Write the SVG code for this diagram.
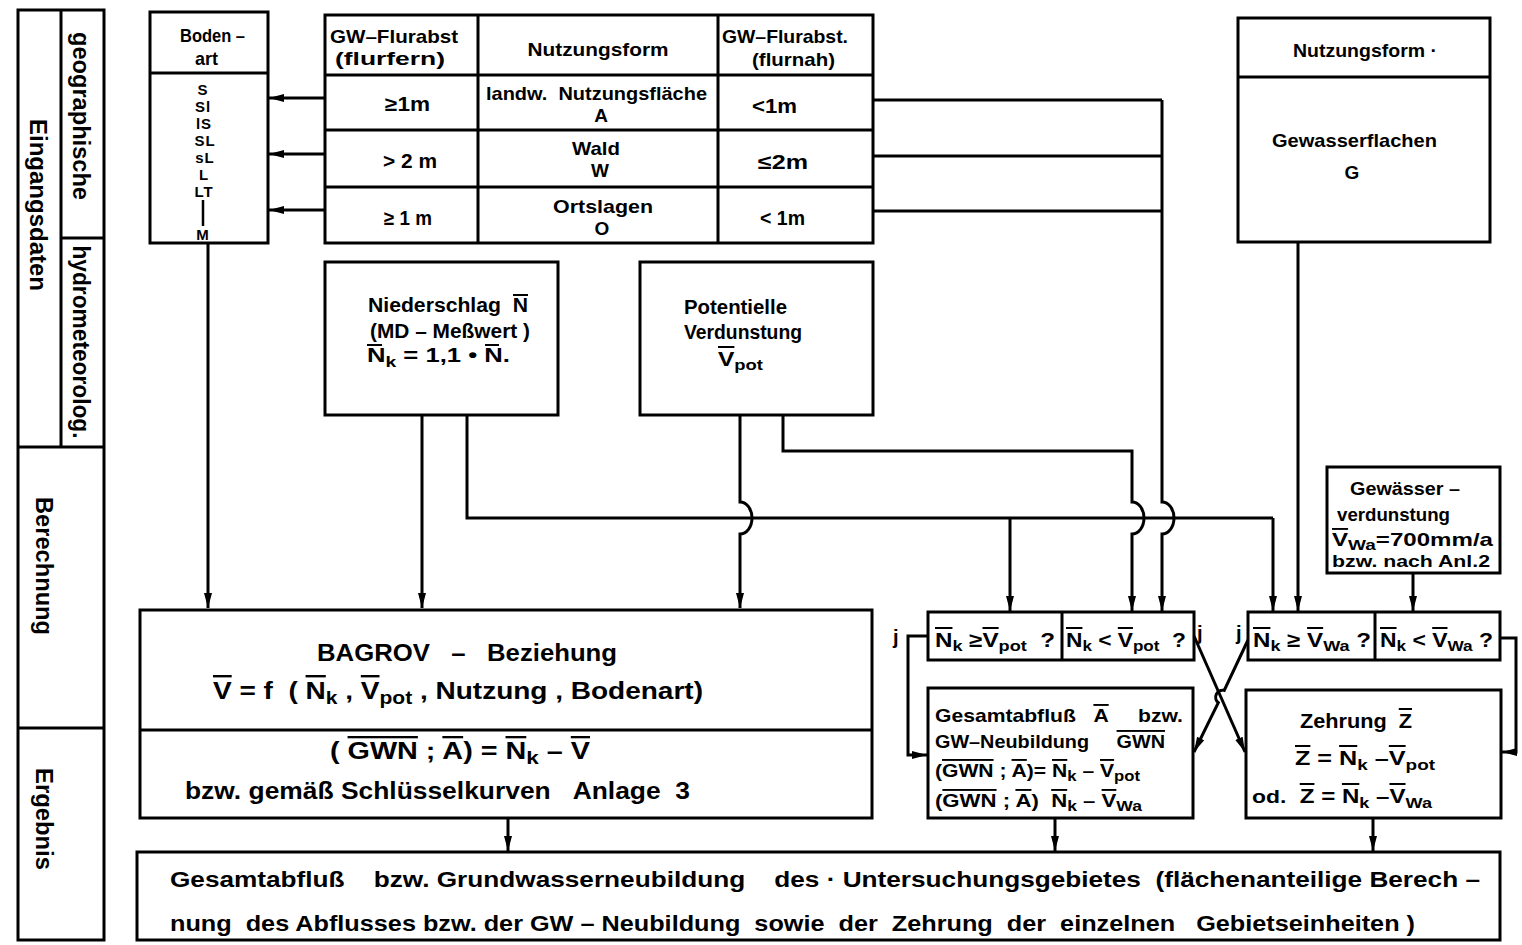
<svg xmlns="http://www.w3.org/2000/svg" width="1522" height="945" viewBox="0 0 1522 945">
<defs>
<marker id="ah" markerUnits="userSpaceOnUse" markerWidth="16" markerHeight="10" refX="15" refY="5" orient="auto">
<path d="M0,1 L15,5 L0,9 z" fill="#000"/>
</marker>
<style>
.bx{fill:#fff;stroke:#000;stroke-width:3}
.ln{fill:none;stroke:#000;stroke-width:3}
.c{fill:none;stroke:#000;stroke-width:3;marker-end:url(#ah)}
.ob{fill:none;stroke:#000;stroke-width:2}
text{font-family:"Liberation Sans",Arial,sans-serif;font-weight:bold;font-size:20px;fill:#000}
.s{font-size:19px}
.m{text-anchor:middle}
.ov{text-decoration:overline}
.sub{font-size:15px}
.bd{font-size:15px;text-anchor:middle;letter-spacing:1px}
.sd{font-size:24px;text-anchor:middle}
</style>
</defs>
<rect width="1522" height="945" fill="#fff"/>

<g id="sidebar">
<rect class="bx" x="18" y="10" width="86" height="930"/>
<path class="ln" d="M61,10 V447 M61,238 H104 M18,447 H104 M18,728 H104"/>
<text class="sd" transform="translate(38,205) rotate(90)" dy="8" textLength="172" lengthAdjust="spacingAndGlyphs">Eingangsdaten</text>
<text class="sd" transform="translate(81,116) rotate(90)" dy="8" textLength="168" lengthAdjust="spacingAndGlyphs">geographische</text>
<text class="sd" transform="translate(81,342) rotate(90)" dy="8" textLength="193" lengthAdjust="spacingAndGlyphs">hydrometeorolog.</text>
<text class="sd" transform="translate(44,566) rotate(90)" dy="8" textLength="138" lengthAdjust="spacingAndGlyphs">Berechnung</text>
<text class="sd" transform="translate(44,819) rotate(90)" dy="8" textLength="102" lengthAdjust="spacingAndGlyphs">Ergebnis</text>
</g>

<g id="bodenart">
<rect class="bx" x="150" y="12" width="118" height="231"/>
<path class="ln" d="M150,73 H268"/>
<text class="s" x="180" y="42" textLength="65" lengthAdjust="spacingAndGlyphs">Boden&#160;–</text>
<text class="s" x="195" y="65" textLength="23" lengthAdjust="spacingAndGlyphs">art</text>
<text class="bd" x="203" y="95">S</text>
<text class="bd" x="203" y="112">Sl</text>
<text class="bd" x="204" y="129">lS</text>
<text class="bd" x="205" y="146">SL</text>
<text class="bd" x="205" y="163">sL</text>
<text class="bd" x="204" y="180">L</text>
<text class="bd" x="204" y="197">LT</text>
<text class="bd" x="203" y="240">M</text>
<path class="ln" d="M203,200 V226" style="stroke-width:2.5"/>
</g>

<g id="table">
<rect class="bx" x="325" y="15" width="548" height="228"/>
<path class="ln" d="M478,15 V243 M718,15 V243 M325,75 H873 M325,130 H873 M325,187 H873"/>
<text class="s" x="330" y="43" textLength="128" lengthAdjust="spacingAndGlyphs">GW–Flurabst</text>
<text class="s" x="335" y="65" textLength="110" lengthAdjust="spacingAndGlyphs">(flurfern)</text>
<text class="s m" x="598" y="56" textLength="141" lengthAdjust="spacingAndGlyphs">Nutzungsform</text>
<text class="s" x="722" y="43" textLength="126" lengthAdjust="spacingAndGlyphs">GW–Flurabst.</text>
<text class="s" x="752" y="66" textLength="83" lengthAdjust="spacingAndGlyphs">(flurnah)</text>
<text x="385" y="111" textLength="45" lengthAdjust="spacingAndGlyphs">≥1m</text>
<text class="s" x="486" y="100" textLength="221" lengthAdjust="spacingAndGlyphs">landw.&#160;&#160;Nutzungsfläche</text>
<text class="s m" x="601" y="122">A</text>
<text x="752" y="113" textLength="45" lengthAdjust="spacingAndGlyphs">&lt;1m</text>
<text x="383" y="168" textLength="54" lengthAdjust="spacingAndGlyphs">&gt; 2 m</text>
<text class="s" x="572" y="155" textLength="48" lengthAdjust="spacingAndGlyphs">Wald</text>
<text class="s m" x="600" y="177">W</text>
<text x="758" y="169" textLength="50" lengthAdjust="spacingAndGlyphs">≤2m</text>
<text x="384" y="225" textLength="48" lengthAdjust="spacingAndGlyphs">≥ 1 m</text>
<text class="s" x="553" y="213" textLength="100" lengthAdjust="spacingAndGlyphs">Ortslagen</text>
<text class="s m" x="602" y="235">O</text>
<text x="760" y="225" textLength="45" lengthAdjust="spacingAndGlyphs">&lt; 1m</text>
</g>

<g id="niederschlag">
<rect class="bx" x="325" y="262" width="233" height="153"/>
<text x="368" y="312" textLength="160" lengthAdjust="spacingAndGlyphs">Niederschlag&#160;&#160;N</text>
<text x="370" y="338" textLength="160" lengthAdjust="spacingAndGlyphs">(MD – Meßwert )</text>
<text x="367" y="362" textLength="143" lengthAdjust="spacingAndGlyphs">N<tspan class="sub" dy="5">k</tspan><tspan dy="-5"> = 1,1 • N.</tspan></text>
<path class="ob" d="M513,295 H528 M367,345 H382 M485,345 H499"/>
</g>

<g id="verdunstung">
<rect class="bx" x="640" y="262" width="233" height="153"/>
<text x="684" y="314" textLength="103" lengthAdjust="spacingAndGlyphs">Potentielle</text>
<text x="684" y="339" textLength="118" lengthAdjust="spacingAndGlyphs">Verdunstung</text>
<text x="718" y="366" textLength="45" lengthAdjust="spacingAndGlyphs"><tspan class="ov">V</tspan><tspan class="sub" dy="4">pot</tspan></text>
</g>

<g id="gewaesser">
<rect class="bx" x="1238" y="18" width="252" height="224"/>
<path class="ln" d="M1238,77 H1490"/>
<text class="s" x="1293" y="57" textLength="144" lengthAdjust="spacingAndGlyphs">Nutzungsform ·</text>
<text class="s" x="1272" y="147" textLength="165" lengthAdjust="spacingAndGlyphs">Gewasserflachen</text>
<text class="s m" x="1352" y="179">G</text>
</g>

<g id="gewaesserverdunstung">
<rect class="bx" x="1327" y="467" width="173" height="106"/>
<text class="s" x="1350" y="495" textLength="110" lengthAdjust="spacingAndGlyphs">Gewässer –</text>
<text class="s" x="1337" y="521" textLength="113" lengthAdjust="spacingAndGlyphs">verdunstung</text>
<text class="s" x="1332" y="546" textLength="161" lengthAdjust="spacingAndGlyphs"><tspan class="ov">V</tspan><tspan class="sub" dy="4">Wa</tspan><tspan dy="-4">=700mm/a</tspan></text>
<text x="1332" y="567" style="font-size:16px" textLength="158" lengthAdjust="spacingAndGlyphs">bzw. nach Anl.2</text>
</g>

<g id="bagrov">
<rect class="bx" x="140" y="610" width="732" height="208"/>
<path class="ln" d="M140,730 H872"/>
<text x="317" y="661" style="font-size:24px" textLength="300" lengthAdjust="spacingAndGlyphs">BAGROV&#160;&#160;&#160;–&#160;&#160;&#160;Beziehung</text>
<text x="213" y="699" style="font-size:24px" textLength="490" lengthAdjust="spacingAndGlyphs"><tspan class="ov">V</tspan> = f&#160;&#160;( <tspan class="ov">N</tspan><tspan class="sub" style="font-size:18px" dy="5">k</tspan><tspan dy="-5"> , </tspan><tspan class="ov">V</tspan><tspan class="sub" style="font-size:18px" dy="5">pot</tspan><tspan dy="-5"> , Nutzung , Bodenart)</tspan></text>
<text x="330" y="759" style="font-size:23px" textLength="260" lengthAdjust="spacingAndGlyphs">( <tspan class="ov">GWN</tspan> ; <tspan class="ov">A</tspan>) = <tspan class="ov">N</tspan><tspan class="sub" style="font-size:18px" dy="5">k</tspan><tspan dy="-5"> – </tspan><tspan class="ov">V</tspan></text>
<text x="185" y="799" style="font-size:23px" textLength="505" lengthAdjust="spacingAndGlyphs">bzw. gemäß Schlüsselkurven&#160;&#160;&#160;Anlage&#160;&#160;3</text>
</g>

<g id="cond-pot">
<rect class="bx" x="928" y="612" width="266" height="48"/>
<path class="ln" d="M1062,612 V660"/>
<text x="935" y="647" textLength="120" lengthAdjust="spacingAndGlyphs"><tspan class="ov">N</tspan><tspan class="sub" dy="4">k</tspan><tspan dy="-4"> ≥</tspan><tspan class="ov">V</tspan><tspan class="sub" dy="4">pot</tspan><tspan dy="-4">&#160;&#160;?</tspan></text>
<text x="1066" y="647" textLength="120" lengthAdjust="spacingAndGlyphs"><tspan class="ov">N</tspan><tspan class="sub" dy="4">k</tspan><tspan dy="-4"> &lt; </tspan><tspan class="ov">V</tspan><tspan class="sub" dy="4">pot</tspan><tspan dy="-4">&#160;&#160;?</tspan></text>
<text x="893" y="644">j</text>
<text x="1197" y="640">j</text>
</g>

<g id="cond-wa">
<rect class="bx" x="1248" y="612" width="252" height="48"/>
<path class="ln" d="M1375,612 V660"/>
<text x="1253" y="647" textLength="118" lengthAdjust="spacingAndGlyphs"><tspan class="ov">N</tspan><tspan class="sub" dy="4">k</tspan><tspan dy="-4"> ≥ </tspan><tspan class="ov">V</tspan><tspan class="sub" dy="4">Wa</tspan><tspan dy="-4"> ?</tspan></text>
<text x="1380" y="647" textLength="113" lengthAdjust="spacingAndGlyphs"><tspan class="ov">N</tspan><tspan class="sub" dy="4">k</tspan><tspan dy="-4"> &lt; </tspan><tspan class="ov">V</tspan><tspan class="sub" dy="4">Wa</tspan><tspan dy="-4"> ?</tspan></text>
<text x="1236" y="640">j</text>
</g>

<g id="abfluss">
<rect class="bx" x="928" y="688" width="265" height="130"/>
<text class="s" x="935" y="722" textLength="248" lengthAdjust="spacingAndGlyphs">Gesamtabfluß&#160;&#160;&#160;<tspan class="ov">A</tspan>&#160;&#160;&#160;&#160;&#160;bzw.</text>
<text class="s" x="935" y="748" textLength="230" lengthAdjust="spacingAndGlyphs">GW–Neubildung&#160;&#160;&#160;&#160;&#160;<tspan class="ov">GWN</tspan></text>
<text class="s" x="935" y="777" textLength="205" lengthAdjust="spacingAndGlyphs">(<tspan class="ov">GWN</tspan> ; <tspan class="ov">A</tspan>)= <tspan class="ov">N</tspan><tspan class="sub" dy="4">k</tspan><tspan dy="-4"> – </tspan><tspan class="ov">V</tspan><tspan class="sub" dy="4">pot</tspan></text>
<text class="s" x="935" y="807" textLength="207" lengthAdjust="spacingAndGlyphs">(<tspan class="ov">GWN</tspan> ; <tspan class="ov">A</tspan>)&#160;&#160;<tspan class="ov">N</tspan><tspan class="sub" dy="4">k</tspan><tspan dy="-4"> – </tspan><tspan class="ov">V</tspan><tspan class="sub" dy="4">Wa</tspan></text>
</g>

<g id="zehrung">
<rect class="bx" x="1246" y="690" width="255" height="128"/>
<text x="1300" y="728" textLength="112" lengthAdjust="spacingAndGlyphs">Zehrung&#160;&#160;<tspan class="ov">Z</tspan></text>
<text x="1295" y="765" textLength="140" lengthAdjust="spacingAndGlyphs"><tspan class="ov">Z</tspan> = <tspan class="ov">N</tspan><tspan class="sub" dy="5">k</tspan><tspan dy="-5"> –</tspan><tspan class="ov">V</tspan><tspan class="sub" dy="5">pot</tspan></text>
<text x="1252" y="803" textLength="180" lengthAdjust="spacingAndGlyphs"><tspan class="s">od.</tspan>&#160;&#160;<tspan class="ov">Z</tspan> = <tspan class="ov">N</tspan><tspan class="sub" dy="5">k</tspan><tspan dy="-5"> –</tspan><tspan class="ov">V</tspan><tspan class="sub" dy="5">Wa</tspan></text>
</g>

<g id="ergebnis">
<rect class="bx" x="137" y="852" width="1363" height="88"/>
<text x="170" y="887" style="font-size:22px" textLength="1310" lengthAdjust="spacingAndGlyphs">Gesamtabfluß&#160;&#160;&#160;&#160;bzw. Grundwasserneubildung&#160;&#160;&#160;&#160;des · Untersuchungsgebietes&#160;&#160;(flächenanteilige Berech –</text>
<text x="170" y="931" style="font-size:22px" textLength="1245" lengthAdjust="spacingAndGlyphs">nung&#160;&#160;des Abflusses bzw. der GW – Neubildung&#160;&#160;sowie&#160;&#160;der&#160;&#160;Zehrung&#160;&#160;der&#160;&#160;einzelnen&#160;&#160;&#160;Gebietseinheiten )</text>
</g>

<g id="connectors">
<path class="c" d="M325,98 H269"/>
<path class="c" d="M325,154 H269"/>
<path class="c" d="M325,210 H269"/>
<path class="c" d="M208,243 V608"/>
<path class="c" d="M422,415 V608"/>
<path class="ln" d="M467,415 V518 H1273"/>
<path class="c" d="M1273,518 V611"/>
<path class="c" d="M1010,518 V611"/>
<path class="c" d="M740,415 V502 A12 16 0 0 1 740 534 V608"/>
<path class="c" d="M783,415 V451 H1132 V502 A12 16 0 0 1 1132 534 V611"/>
<path class="ln" d="M873,100 H1162 M873,156 H1162 M873,211 H1162"/>
<path class="c" d="M1162,100 V502 A12 16 0 0 1 1162 534 V611"/>
<path class="c" d="M1298,242 V611"/>
<path class="c" d="M1413,573 V611"/>
<path class="c" d="M928,636 H908 V755 H927"/>
<path class="c" d="M1194,636 L1245,752"/>
<path class="c" d="M1248,640 L1224.2,690.4 A7 7 0 0 0 1218.3,702.7 L1194,752"/>
<path class="c" d="M1500,638 H1516 V752 H1502"/>
<path class="c" d="M508,818 V851"/>
<path class="c" d="M1055,818 V851"/>
<path class="c" d="M1373,818 V851"/>
</g>
</svg>
